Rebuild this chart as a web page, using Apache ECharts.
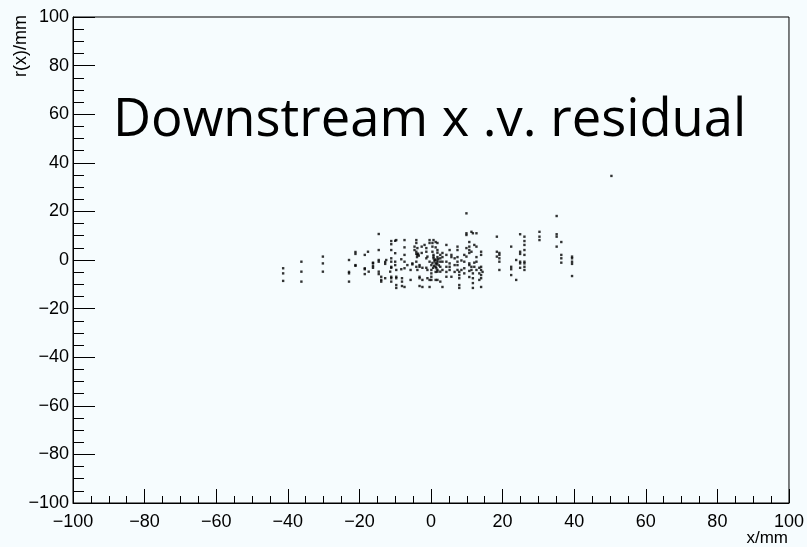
<!DOCTYPE html>
<html>
<head>
<meta charset="utf-8">
<script src="https://cdn.jsdelivr.net/npm/echarts@6/dist/echarts.min.js"></script>
<style>
html,body{margin:0;padding:0;background:#f6fcfe;}
#chart{width:807px;height:547px;}
</style>
</head>
<body>
<div id="chart"></div>
<script>
var titleText = "Downstream x .v. residual";
var xAxisTitle = "x/mm";
var yAxisTitle = "r(x)/mm";
var xRange = [-100, 100];
var yRange = [-100, 100];
var tickStep = 20;

var pointsLeft = [
[-41.3,-3.4],[-41.3,-5.5],[-41.3,-8.6],
[-36.2,-0.7],[-36.2,-4.8],[-36.2,-8.9],
[-30.2,1.4],[-30.2,-1.4],[-30.2,-4.8],
[-22.9,0],[-22.9,-5.5],[-22.9,-8.9],[-22.9,-4.9],
[-21.1,2.5],[-21.1,3.3],[-21.1,-2.1],[-21.1,-2.4],
[-18.5,2.1],[-18.5,-3.8],[-18.5,-5.8],[-18.5,-3.4],
[-17.6,3.4],[-17.4,-4.8],
[-16.2,-1.1],[-16.2,-1.4],[-16.2,-2.5],[-16.2,-3.2],
[-14.6,10.7],[-14.6,4.1],[-14.6,-0.7],[-14.6,0],[-14.6,-4.8],[-14.6,-5.8],
[-13.9,-8.2],[-13.9,-6.9],[-13.9,-8.9],
[-12.8,-0.8],[-12.8,-1.6],[-12.5,0],[-12.8,-7.5],
[-11.4,-4.8]
];
var pointsCore = [
[-11.1,6.5],[-11.1,7.8],[-11.1,4.1],[-11.1,0.7],[-11.1,-0.7],[-11.1,-2.8],[-11.1,-3.2],[-11.1,-6.9],[-11.1,-7.5],[-11.1,-8.9],
[-10.0,7.9],[-10.0,2.8],[-10.0,-0.7],[-10.0,-2.1],
[-9.7,-4.1],[-9.7,-6.9],[-9.7,8.2],[-9.7,-7.5],[-9.7,-10.3],[-9.7,-11.5],
[-8.3,0.3],[-8.3,-3.8],
[-8.1,-7.5],[-8.1,-8.9],[-8.1,-10.7],
[-7.4,8.2],[-7.4,5.2],[-7.4,2.1],[-7.4,-0.7],[-7.4,-3.4],[-7.4,-11.1],
[-6.6,-2.1],[-5.7,-4.1],[-5.7,-8.2],[-5.2,-1.4],[-5.2,-1.8],
[-4.6,5.5],[-4.6,4.1],[-4.1,8.2],[-4.1,7.0],[-4.1,3.4],[-4.1,2.5],[-4.1,-0.7],[-4.1,-2.8],
[-3.8,4.9],[-3.8,2.1],[-3.8,-4.1],[-3.6,2.6],[-3.4,1.8],[-3.9,1.2],
[-3.2,-2.8],[-3.2,-2.1],[-3.2,-6.9],[-3.2,-7.5],[-3.2,-10.7],
[-2.6,5.5],[-2.6,2.9],[-2.4,-3.2],[-2.4,-8.2],[-2.4,-11.1],
[-1.8,6.2],[-1.3,4.9],[-1.3,3.4],[-1.3,0.7],[-1.0,1.4],[-1.3,-3.2],[-1.0,-4.1],[-1.0,-7.5],
[-0.4,8.2],[-0.4,7.0],[-0.4,-0.7],[-0.4,-8.2],[-0.4,-11.1],
[0.1,-2.1],[0.1,-4.1],[0.1,-5.5],[0.1,-6.9],[0.1,-8.2],
[0.4,7.0],[0.4,5.5],[0.4,3.4],[0.7,1.4],[0.7,8.2],[0.7,2.1],[0.7,0.7],[1.0,0],[1.3,-1.4],[1.3,0.2],[1.3,7.4],[1.3,5.2],[1.3,-4.9],[1.3,-2.8],[1.3,-8.2],
[1.0,-0.6],[1.6,-1.8],[0.9,-2.4],[0.4,-1.2],[2.0,0.4],[2.2,-2.2],[1.5,-3.4],[0.6,-3.2],
[1.8,1.2],[1.8,-0.4],[1.8,-1.1],[1.8,-4.1],[1.8,-4.8],[1.8,-8.2],[1.8,7.0],[1.8,4.1],[1.8,3.0],
[2.6,2.1],[2.6,0.7],[2.6,-0.7],[2.6,-2.8],[2.6,-4.8],[2.6,-8.9],
[3.2,2.9],[3.2,1.2],[3.2,-0.7],[3.2,-4.1],[3.2,-11.1],
[4.3,6.2],[4.3,2.1],[4.3,-0.7],[4.3,-2.8],[4.3,-4.9],[4.3,-6.9],
[5.2,-1.4],[5.2,-2.8],[5.2,-4.1],[5.2,4.1],
[5.7,2.1],[5.7,1.2],[5.7,-6.9],
[6.6,0.7],[6.6,-2.1],[6.6,-4.9],
[7.4,5.5],[7.4,4.1],[7.4,1.2],[7.4,-0.7],[7.4,-2.1],[7.4,-4.1],
[7.9,-6.2],[7.9,-7.5],[7.9,-10.3],[7.9,-11.5],[7.9,-4.9],
[8.5,-0.2],[8.5,-4.1],
[9.3,2.1],[9.3,-0.7],[9.3,-3.4],[9.3,-5.5],
[9.9,10.3],[9.9,11.0],[9.9,19.2],[9.9,4.9],[9.9,1.4],
[10.7,7.4],[10.7,5.5],[10.7,4.1],[10.7,2.9],[10.7,-1.4],[10.7,-2.1],[10.7,-4.5],[10.7,-7.0],
[11.3,11.6],[11.3,3.4],[11.3,-2.8],[11.3,-4.1],
[11.7,-7.5],[11.7,-9.5],[11.7,-11.5],[11.7,11.0],[11.7,-5.5],
[12.1,6.2],[12.1,-1.1],[12.1,-2.8],
[12.7,11.0],[12.7,5.5],[12.7,1.2],[12.7,-0.7],[12.7,-4.1],
[13.5,-3.2],[13.5,-5.5],[13.5,-8.2],
[14.0,3.4],[14.0,2.1],[14.0,-2.8],[14.0,-4.1],[14.0,-6.2],[14.0,-7.5],[14.0,-11.1],
[14.4,-4.9]
];
var pointsRight = [
[18.4,9.6],[18.4,3.4],[18.4,1.4],
[19.1,2.9],[19.1,2.1],[19.1,0.7],[19.1,-0.7],[19.1,-4.1],
[22.4,5.5],[22.4,-2.8],[22.4,-3.8],[22.4,-6.2],
[23.8,0],[23.8,-8.2],
[24.9,10.6],[24.9,3.4],[24.9,2.5],[24.9,-0.7],[24.9,-1.4],[24.9,-3.2],
[26.1,9.6],[26.1,7.8],[26.1,6.2],[26.1,4.1],[26.1,2.1],[26.1,-0.7],[26.1,-1.4],[26.1,-2.8],[26.1,-4.1],
[30.3,11.6],[30.3,9.6],[30.3,8.2],
[35.1,18.1],[35.1,10.6],[35.1,9.6],[35.1,5.5],
[36.4,7.4],[36.4,2.1],[36.4,0.7],[36.4,-1.1],
[39.4,1.4],[39.4,0.7],[39.4,-0.7],[39.4,-1.6],[39.4,-6.6],
[50.4,34.6]
];

var allPoints = pointsLeft.concat(pointsCore, pointsRight);

function fmt(v){ return v < 0 ? '\u2212' + Math.abs(v) : String(v); }

var chart = echarts.init(document.getElementById('chart'), null, {renderer:'canvas'});
var labelFont = {fontFamily:'Liberation Sans', fontSize:18, color:'#000'};
chart.setOption({
  backgroundColor:'#f6fcfe',
  animation:false,
  grid:{left:73, right:17, top:17, bottom:44, show:true, borderColor:'#000', borderWidth:1, backgroundColor:'transparent'},
  xAxis:{
    type:'value', min:xRange[0], max:xRange[1], interval:tickStep,
    axisLine:{show:true, onZero:false, lineStyle:{color:'#000', width:1}},
    axisTick:{show:true, inside:true, length:14, lineStyle:{color:'#000'}},
    minorTick:{show:true, splitNumber:4, length:7, lineStyle:{color:'#000'}},
    splitLine:{show:false},
    axisLabel:Object.assign({margin:10, formatter:fmt}, labelFont)
  },
  yAxis:{
    type:'value', min:yRange[0], max:yRange[1], interval:tickStep,
    axisLine:{show:true, onZero:false, lineStyle:{color:'#000', width:1}},
    axisTick:{show:true, inside:true, length:22, lineStyle:{color:'#000'}},
    minorTick:{show:true, splitNumber:4, length:11, lineStyle:{color:'#000'}},
    splitLine:{show:false},
    axisLabel:Object.assign({margin:4, formatter:fmt}, labelFont)
  },
  series:[{
    type:'scatter',
    data:allPoints,
    symbol:'rect',
    symbolSize:2.4,
    itemStyle:{color:'#000'}
  }],
  graphic:[
    {type:'text', left:113, top:95, style:{text:titleText, fontFamily:'Open Sans', fontSize:52.5, fill:'#000'}},
    {type:'text', x:788, y:538, style:{text:xAxisTitle, fontFamily:'Liberation Sans', fontSize:17, fill:'#000', textAlign:'right', textVerticalAlign:'middle'}},
    {type:'text', x:21, y:15, rotation:Math.PI/2, style:{text:yAxisTitle, fontFamily:'Liberation Sans', fontSize:18, fill:'#000', textAlign:'right', textVerticalAlign:'middle'}}
  ]
});
</script>
</body>
</html>
